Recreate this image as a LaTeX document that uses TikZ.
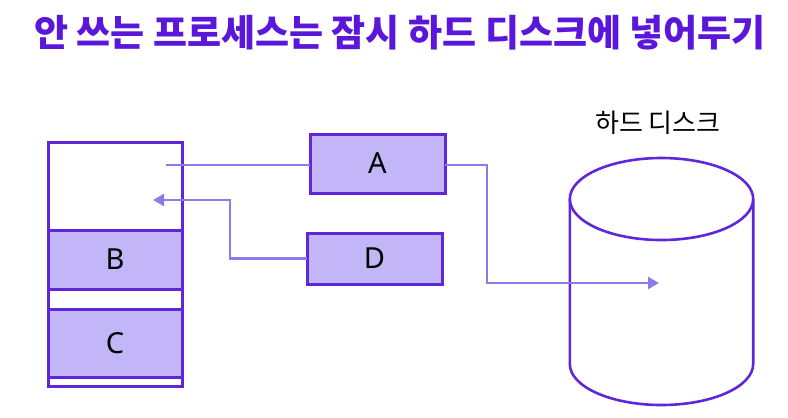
\documentclass[tikz,border=0pt]{standalone}
\usepackage{fontspec}
\setmainfont{Noto Sans}
\newfontfamily\kr{Noto Sans CJK KR}
\usetikzlibrary{arrows.meta}
\definecolor{ttl}{HTML}{5B16DC}
\definecolor{bord}{HTML}{6026DA}
\definecolor{fillp}{HTML}{C3B6F8}
\definecolor{arrc}{HTML}{8C7BEF}
\tikzset{
  cell/.style={draw=bord, line width=3pt, inner sep=0pt, outer sep=0pt, minimum width=134pt, font=\fontsize{29}{31}\selectfont},
  pcell/.style={cell, fill=fillp},
  wcell/.style={cell, fill=white},
  conn/.style={draw=arrc, line width=2.4pt},
  arr/.style={conn, -{Triangle[length=11pt,width=12pt]}},
}
\begin{document}
\begin{tikzpicture}[x=1pt,y=-1pt]
\useasboundingbox (0,0) rectangle (788,418);
% title
\node[font=\kr\bfseries\fontsize{37}{40}\selectfont, text=ttl] (title) at (400,33) {안 쓰는 프로세스는 잠시 하드 디스크에 넣어두기};
% memory column
\node[wcell, minimum height=88pt] (top) at (115,186) {};
\node[pcell, minimum height=59pt] (B) at (115,259.5) {B};
\node[wcell, minimum height=20pt] (gap) at (115,299) {};
\node[pcell, minimum height=69pt] (C) at (115,343.5) {C};
\node[wcell, minimum height=8.7pt] (bot) at (115,382.3) {};
% process boxes
\node[pcell, minimum width=135pt, minimum height=59pt] (A) at (377.5,163.5) {A};
\node[pcell, minimum width=135pt, minimum height=51pt] (D) at (374.5,258.5) {D};
% disk
\draw[draw=bord, line width=2.6pt] (661.5,199) ellipse[x radius=91.7pt, y radius=41pt];
\draw[draw=bord, line width=2.6pt] (569.8,199) -- (569.8,364) arc[start angle=180, end angle=360, x radius=91.7pt, y radius=41pt] -- (753.2,199);
\node[font=\kr\fontsize{26}{28}\selectfont] (disklabel) at (658,123) {하드 디스크};
% connectors
\coordinate (outA) at (166,165);
\coordinate (inMem) at (153,200);
\coordinate (inDisk) at (659,283);
\draw[conn] (A.west |- outA) -- (outA);
\draw[arr] (D.west) -- ++(-77,0) |- (inMem);
\draw[arr] (A.east |- outA) -- ++(42,0) |- (inDisk);
\end{tikzpicture}
\end{document}
